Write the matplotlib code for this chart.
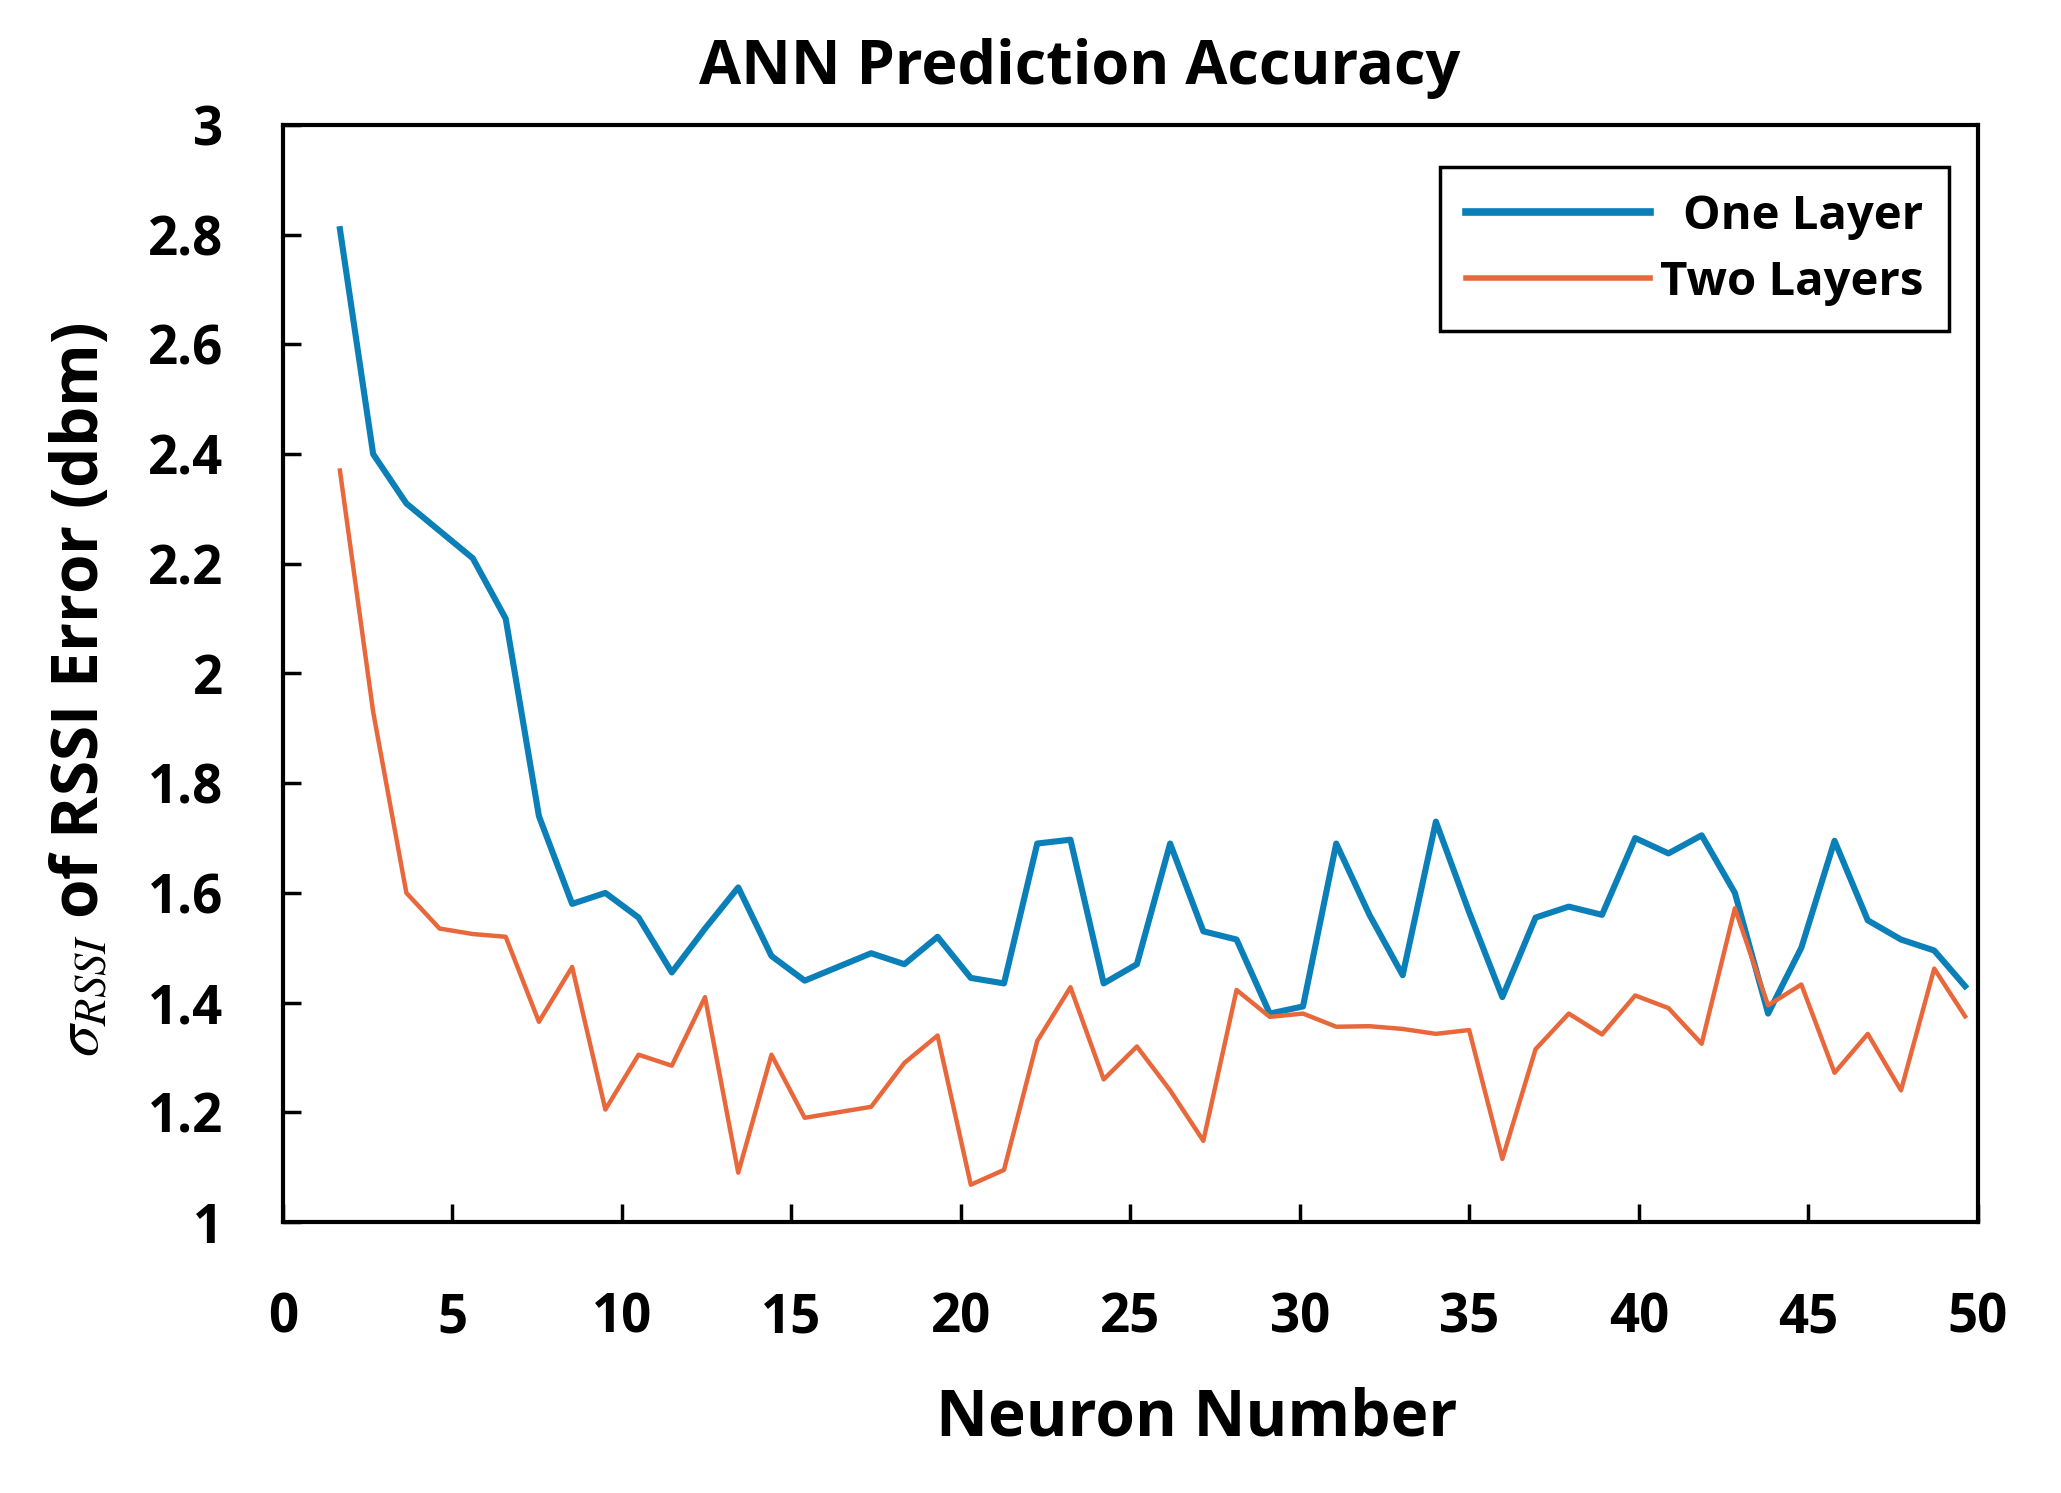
import numpy as np
import matplotlib
matplotlib.use("Agg")
import matplotlib.pyplot as plt
from matplotlib.ticker import FuncFormatter, MultipleLocator

plt.rcParams["font.family"] = ["Open Sans", "DejaVu Sans"]
plt.rcParams["mathtext.fontset"] = "stix"

# neuron positions as they sit on the x axis of the original figure
neurons = [1.68, 2.66, 3.64, 4.62, 5.60, 6.57, 7.55, 8.53, 9.51, 10.49,
           11.47, 12.45, 13.43, 14.41, 15.39, 16.37, 17.35, 18.33, 19.31, 20.29,
           21.27, 22.25, 23.23, 24.21, 25.19, 26.17, 27.15, 28.13, 29.11, 30.09,
           31.07, 32.05, 33.03, 34.01, 34.99, 35.97, 36.95, 37.93, 38.91, 39.89,
           40.87, 41.85, 42.83, 43.81, 44.79, 45.77, 46.75, 47.73, 48.71, 49.62]

one_layer = [2.81, 2.40, 2.31, 2.26, 2.21, 2.10, 1.74, 1.58, 1.60, 1.555,
             1.455, 1.535, 1.61, 1.485, 1.44, 1.465, 1.49, 1.47, 1.52, 1.445,
             1.435, 1.69, 1.697, 1.435, 1.47, 1.69, 1.53, 1.515, 1.38, 1.393,
             1.69, 1.56, 1.45, 1.73, 1.565, 1.41, 1.555, 1.575, 1.56, 1.70,
             1.672, 1.705, 1.60, 1.38, 1.50, 1.695, 1.55, 1.515, 1.495, 1.43]

two_layers = [2.37, 1.93, 1.60, 1.535, 1.525, 1.52, 1.365, 1.465, 1.205, 1.305,
              1.285, 1.41, 1.09, 1.305, 1.19, 1.20, 1.21, 1.29, 1.34, 1.068,
              1.095, 1.33, 1.428, 1.26, 1.32, 1.24, 1.148, 1.423, 1.374, 1.38,
              1.356, 1.357, 1.352, 1.343, 1.35, 1.115, 1.315, 1.38, 1.342, 1.413,
              1.39, 1.325, 1.572, 1.395, 1.433, 1.272, 1.343, 1.24, 1.462, 1.375]

fig = plt.figure(figsize=(20.61, 14.93), dpi=100)
ax = fig.add_axes([0.1373, 0.1815, 0.8224, 0.7348])

ax.plot(neurons, one_layer, color="#0a7fb8", linewidth=4.4, label="One Layer")
ax.plot(neurons, two_layers, color="#e8683c", linewidth=3.2, label="Two Layers")

ax.set_xlim(0, 50)
ax.set_ylim(1, 3)
ax.xaxis.set_major_locator(MultipleLocator(5))
ax.yaxis.set_major_locator(MultipleLocator(0.2))
ax.yaxis.set_major_formatter(FuncFormatter(lambda v, p: f"{v:g}"))

for s in ax.spines.values():
    s.set_linewidth(3)
ax.tick_params(axis="both", direction="in", length=13, width=2.5,
               labelsize=38, top=False, right=False)
ax.tick_params(axis="y", pad=43)
ax.tick_params(axis="x", pad=50)
for lab in ax.get_xticklabels() + ax.get_yticklabels():
    lab.set_fontweight("bold")

fig.text(0.524, 0.954, "ANN Prediction Accuracy", ha="center", va="center",
         fontsize=44, fontweight="bold")

ax.set_xlabel("Neuron Number", fontsize=46, fontweight="bold", va="center")
ax.xaxis.set_label_coords(0.539, -0.18)
ax.set_ylabel(r"$\sigma_{RSSI}$ of RSSI Error (dbm)", fontsize=46,
              fontweight="bold", va="center")
ax.yaxis.set_label_coords(-0.119, 0.485)

leg = ax.legend(loc="upper right", bbox_to_anchor=(0.983, 0.962),
                borderaxespad=0, fancybox=False, edgecolor="black",
                framealpha=1, handlelength=3.9,
                handletextpad=0.2, borderpad=0.55, labelspacing=0.4,
                prop={"weight": "bold", "size": 34})
leg.get_frame().set_linewidth(2.5)
leg.get_lines()[0].set_linewidth(5.5)
leg.get_lines()[1].set_linewidth(4)

# right-align legend labels like the original
fig.canvas.draw()
renderer = fig.canvas.get_renderer()
widths = [t.get_window_extent(renderer).width for t in leg.get_texts()]
shift = max(widths)
for t, w in zip(leg.get_texts(), widths):
    t.set_position((shift - w, 0))

fig.savefig("out.png", dpi=100)
